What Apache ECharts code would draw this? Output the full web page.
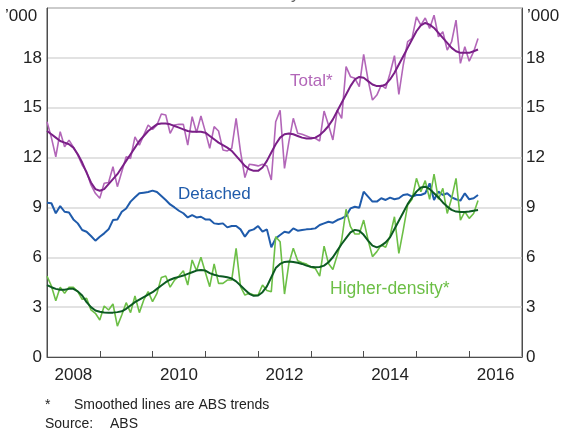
<!DOCTYPE html>
<html>
<head>
<meta charset="utf-8">
<script src="https://cdn.jsdelivr.net/npm/echarts@6/dist/echarts.min.js"></script>
<style>
  html, body { margin: 0; padding: 0; background: #fff; }
  #chart { width: 569px; height: 431px; }
</style>
</head>
<body>
<div id="chart"></div>
<script>
// monthly, Jan 2008 to Mar 2016, '000 dwellings
const startYear = 2008;
const yearTicks = [2008, 2010, 2012, 2014, 2016];

const totalRaw = [
  14.16, 13.2, 12.05, 13.56, 12.65, 13.05, 12.63, 12.15, 11.55, 11.15,
  10.35, 9.85, 9.55, 10.45, 10.5, 11.45, 10.25, 11.15, 12.05, 11.95,
  13.25, 12.75, 13.35, 13.96, 13.7, 13.96, 14.62, 14.56, 13.46, 13.96,
  14.0, 14.0, 12.75, 14.46, 13.5, 14.5, 13.56, 12.56, 13.86, 13.6,
  12.46, 12.4, 12.56, 14.36, 12.36, 10.8, 11.6, 11.56, 11.5, 11.6,
  11.5, 10.65, 14.16, 14.84, 11.35, 12.96, 14.36, 13.46, 13.4, 13.3,
  13.2, 13.16, 13.0, 14.8, 13.96, 13.06, 14.86, 14.36, 17.47, 16.87,
  16.77, 16.27, 18.21, 16.67, 15.46, 15.76, 16.36, 16.16, 17.07, 18.13,
  15.8, 17.57, 18.97, 19.17, 20.47, 19.97, 20.4, 19.77, 20.57, 19.27,
  19.57, 18.47, 18.97, 20.27, 17.67, 18.67, 17.8, 18.37, 19.17
];
const totalTrend = [
  13.6, 13.4, 13.2, 13.0, 12.9, 12.8, 12.6, 12.2, 11.7, 11.1,
  10.5, 10.1, 10.0, 10.1, 10.4, 10.7, 11.0, 11.4, 11.8, 12.2,
  12.6, 13.0, 13.3, 13.6, 13.8, 14.0, 14.05, 14.05, 14.0, 13.9,
  13.8, 13.7, 13.6, 13.55, 13.55, 13.55, 13.5, 13.3, 13.1, 12.9,
  12.75, 12.6, 12.4, 12.1, 11.8, 11.5, 11.3, 11.2, 11.2, 11.4,
  11.8, 12.3, 12.8, 13.2, 13.4, 13.45, 13.4, 13.3, 13.2, 13.15,
  13.15, 13.2, 13.35, 13.6, 13.9, 14.3, 14.8, 15.3, 15.8, 16.3,
  16.7, 16.85, 16.8, 16.6, 16.4, 16.3, 16.3, 16.4, 16.7, 17.1,
  17.6, 18.1, 18.6, 19.1, 19.6, 19.95, 20.1, 20.0, 19.8, 19.5,
  19.2, 18.9, 18.6, 18.4, 18.3, 18.3, 18.3, 18.4, 18.5
];
const detached = [
  9.28, 9.25, 8.65, 9.08, 8.74, 8.7, 8.28, 8.04, 7.64, 7.54,
  7.28, 7.0, 7.24, 7.44, 7.68, 8.24, 8.28, 8.74, 8.94, 9.35,
  9.61, 9.85, 9.89, 9.93, 10.01, 9.93, 9.69, 9.45, 9.18, 9.0,
  8.8, 8.65, 8.4, 8.54, 8.4, 8.44, 8.28, 8.28, 8.04, 8.0,
  8.04, 7.8, 7.88, 7.88, 7.68, 7.24, 7.6, 7.68, 7.88, 7.54,
  7.68, 6.6, 7.14, 7.34, 7.54, 7.48, 7.74, 7.6, 7.64, 7.68,
  7.7, 7.74, 7.94, 8.04, 8.14, 8.08, 8.24, 8.34, 8.48, 8.94,
  9.04, 8.98, 9.95, 9.65, 9.35, 9.35, 9.55, 9.45, 9.59, 9.49,
  9.55, 9.75, 9.79, 9.65, 9.75, 9.75, 9.85, 10.45, 9.45, 9.95,
  9.75, 9.85, 9.61, 9.49, 9.41, 9.85, 9.49, 9.55, 9.75
];
const higherRaw = [
  4.87, 4.27, 3.39, 4.2, 3.83, 4.2, 4.2, 3.93, 3.47, 3.53,
  2.83, 2.63, 2.23, 3.07, 2.83, 3.19, 1.86, 2.53, 3.27, 2.67,
  3.67, 2.67, 3.43, 3.93, 3.33, 3.83, 4.79, 4.87, 4.2, 4.63,
  4.87, 5.19, 4.33, 5.84, 5.19, 6.0, 5.1, 4.23, 5.6, 4.43,
  4.43, 4.63, 4.63, 6.54, 4.23, 3.73, 3.83, 3.73, 3.73, 4.33,
  4.0, 3.93, 7.24, 6.94, 3.79, 5.63, 6.54, 5.79, 5.67, 5.59,
  5.4, 5.33, 4.87, 6.67, 5.63, 5.27, 6.13, 7.04, 8.89, 7.84,
  7.4, 7.4, 8.24, 7.04, 6.04, 6.34, 6.74, 6.6, 7.28, 8.44,
  6.24, 7.64, 9.14, 9.49, 10.75, 9.95, 10.61, 9.49, 11.01, 9.49,
  10.15, 8.64, 9.55, 10.75, 8.24, 8.74, 8.34, 8.64, 9.41
];
const higherTrend = [
  4.33, 4.2, 4.1, 4.05, 4.05, 4.1, 4.1, 3.95, 3.7, 3.3,
  3.0, 2.8, 2.72, 2.68, 2.67, 2.67, 2.7, 2.75, 2.9, 3.1,
  3.3, 3.45, 3.6, 3.75, 3.9, 4.1, 4.3, 4.5, 4.65, 4.75,
  4.82, 4.9, 5.0, 5.1, 5.2, 5.23, 5.2, 5.05, 4.95, 4.88,
  4.85, 4.8, 4.72, 4.55, 4.3, 4.05, 3.8, 3.68, 3.7, 3.9,
  4.25, 4.8, 5.35, 5.6, 5.72, 5.75, 5.72, 5.67, 5.6, 5.5,
  5.43, 5.4, 5.42, 5.5, 5.7, 6.0, 6.4, 6.8, 7.15, 7.5,
  7.65, 7.6, 7.35, 7.0, 6.7, 6.6, 6.7, 6.9, 7.2, 7.7,
  8.2, 8.7, 9.2, 9.6, 9.95, 10.2, 10.25, 10.1, 9.85, 9.6,
  9.3, 9.05, 8.85, 8.75, 8.72, 8.72, 8.75, 8.8, 8.85
];

const withDates = (vals) => vals.map((v, i) => [startYear + i / 12, v]);

const chart = echarts.init(document.getElementById('chart'));
const font = 'Arial, "Liberation Sans", sans-serif';
const lineSeries = (data, color, width, z) => ({
  type: 'line', data: withDates(data), showSymbol: false, z: z,
  lineStyle: { color: color, width: width }, animation: false
});

chart.setOption({
  animation: false,
  grid: { left: 47, right: 47, top: 8, bottom: 74, show: true, borderColor: '#4d4d4d', borderWidth: 1 },
  xAxis: [{
    type: 'value', min: 2008, max: 2017, interval: 1,
    axisLine: { lineStyle: { color: '#4d4d4d' } },
    axisTick: { inside: true, length: 6, lineStyle: { color: '#4d4d4d' } },
    axisLabel: { show: false }, splitLine: { show: false }
  }, {
    type: 'value', min: 2008, max: 2017, interval: 0.5, position: 'bottom',
    axisLine: { show: false }, axisTick: { show: false }, splitLine: { show: false },
    axisLabel: {
      margin: 10, color: '#222', fontSize: 17, fontFamily: font,
      formatter: (v) => yearTicks.includes(v - 0.5) ? String(v - 0.5) : ''
    }
  }],
  yAxis: [{
    type: 'value', min: 0, max: 21, interval: 3, position: 'left',
    axisLine: { show: true, lineStyle: { color: '#4d4d4d' } },
    axisTick: { show: false },
    splitLine: { lineStyle: { color: '#d9d9d9', width: 1.5 } },
    axisLabel: { margin: 5, color: '#222', fontSize: 17, fontFamily: font, formatter: (v) => v === 21 ? '' : v }
  }, {
    type: 'value', min: 0, max: 21, interval: 3, position: 'right',
    axisLine: { show: true, lineStyle: { color: '#4d4d4d' } },
    axisTick: { show: false }, splitLine: { show: false },
    axisLabel: { margin: 4, color: '#222', fontSize: 17, fontFamily: font, formatter: (v) => v === 21 ? '' : v }
  }],
  series: [
    lineSeries(totalRaw, '#b266b8', 1.6, 2),
    lineSeries(totalTrend, '#7a1f87', 2, 3),
    lineSeries(detached, '#1f5bab', 2, 4),
    lineSeries(higherRaw, '#6cbf46', 1.6, 5),
    lineSeries(higherTrend, '#0c5a22', 2, 6)
  ],
  graphic: [
    { type: 'text', left: 5, top: 8, style: { text: '\u2019000', font: '17px ' + font, fill: '#222' } },
    { type: 'text', left: 527, top: 8, style: { text: '\u2019000', font: '17px ' + font, fill: '#222' } },
    { type: 'text', left: 240, top: -14, style: { text: 'Monthly', font: '17px ' + font, fill: '#666' } },
    { type: 'text', left: 290, top: 73, style: { text: 'Total*', font: '17px ' + font, fill: '#b266b8' } },
    { type: 'text', left: 178, top: 186, style: { text: 'Detached', font: '17px ' + font, fill: '#1f5bab' } },
    { type: 'text', left: 330, top: 280, style: { text: 'Higher-density*', font: '17.5px ' + font, fill: '#6cbf46' } },
    { type: 'text', left: 45, top: 398, style: { text: '*', font: '14px ' + font, fill: '#222' } },
    { type: 'text', left: 74, top: 398, style: { text: 'Smoothed lines are ABS trends', font: '14px ' + font, fill: '#222' } },
    { type: 'text', left: 45, top: 417, style: { text: 'Source:', font: '14px ' + font, fill: '#222' } },
    { type: 'text', left: 110, top: 417, style: { text: 'ABS', font: '14px ' + font, fill: '#222' } }
  ]
});
</script>
</body>
</html>
